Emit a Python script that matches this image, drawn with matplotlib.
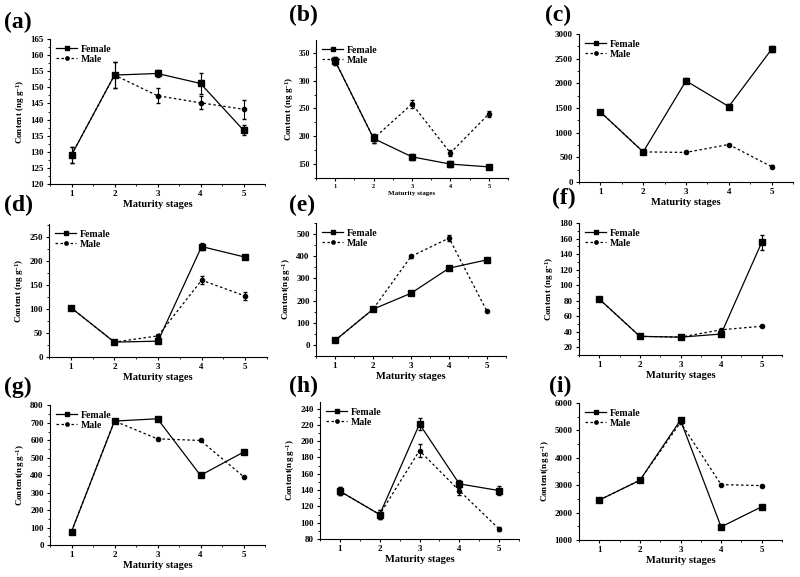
import matplotlib
matplotlib.use("Agg")
import matplotlib.pyplot as plt
from matplotlib.ticker import AutoMinorLocator

plt.rcParams['font.family'] = ['Liberation Serif', 'DejaVu Serif']
plt.rcParams['font.weight'] = 'bold'
plt.rcParams['mathtext.fontset'] = 'custom'
plt.rcParams['mathtext.rm'] = 'Liberation Serif:bold'
plt.rcParams['mathtext.it'] = 'Liberation Serif:bold'
plt.rcParams['mathtext.bf'] = 'Liberation Serif:bold'

stages = [1, 2, 3, 4, 5]

# (a)
a_female = [129.0, 153.8, 154.3, 151.2, 136.7]
a_female_err = [2.5, 4.0, 1.0, 3.3, 1.5]
a_male = [129.0, 153.8, 147.4, 145.2, 143.2]
a_male_err = [2.5, 4.0, 2.4, 2.0, 3.0]
# (b)
b_female = [335, 196, 163, 150, 145]
b_female_err = [7, 8, 6, 6, 3]
b_male = [335, 196, 258, 170, 240]
b_male_err = [7, 8, 8, 5, 6]
# (c)
c_female = [1420, 610, 2050, 1530, 2690]
c_female_err = [40, 20, 50, 60, 60]
c_male = [1420, 610, 600, 760, 310]
c_male_err = [40, 20, 20, 20, 25]
# (d)
d_female = [103, 31, 33, 230, 208]
d_female_err = [3, 2, 4, 8, 4]
d_male = [103, 31, 44, 160, 127]
d_male_err = [3, 2, 4, 9, 8]
# (e)
e_female = [20, 161, 233, 346, 384]
e_female_err = [4, 4, 5, 5, 7]
e_male = [20, 161, 399, 482, 152]
e_male_err = [4, 4, 5, 12, 3]
# (f)
f_female = [82, 34, 33, 37, 155]
f_female_err = [3, 2, 2, 2, 10]
f_male = [82, 34, 33, 42.5, 47]
f_male_err = [3, 2, 2, 1, 1]
# (g)
g_female = [77, 710, 723, 399, 532]
g_female_err = [5, 5, 5, 5, 5]
g_male = [77, 710, 608, 599, 392]
g_male_err = [5, 5, 5, 5, 5]
# (h)
h_female = [138.6, 110, 221, 147.6, 139.4]
h_female_err = [5, 5, 7, 5, 5]
h_male = [138.6, 110, 188.4, 139.3, 92.3]
h_male_err = [5, 5, 8, 5, 3]
# (i)
i_female = [2458, 3181, 5375, 1478, 2213]
i_female_err = [40, 30, 60, 30, 30]
i_male = [2458, 3181, 5290, 3022, 2985]
i_male_err = [40, 30, 60, 30, 30]

# name, data, pixel box (left, top, right, bottom), ylim, yticks, ylabel, label position
panels = [
    ('(a)', a_female, a_female_err, a_male, a_male_err, (50, 39, 265, 184), (120, 165), range(120, 166, 5), 'Content (ng g$^{-1}$)', (4, 22)),
    ('(b)', b_female, b_female_err, b_male, b_male_err, (316, 40, 508, 178), (125, 373), range(150, 351, 50), 'Content (ng g$^{-1}$)', (289, 15)),
    ('(c)', c_female, c_female_err, c_male, c_male_err, (579, 34, 793, 182), (0, 3000), range(0, 3001, 500), None, (545, 15)),
    ('(d)', d_female, d_female_err, d_male, d_male_err, (49, 224, 267, 357), (0, 277), range(0, 251, 50), 'Content (ng g$^{-1}$)', (4, 205)),
    ('(e)', e_female, e_female_err, e_male, e_male_err, (316, 223, 506, 356), (-50, 550), range(0, 501, 100), 'Content(ng g$^{-1}$)', (289, 205)),
    ('(f)', f_female, f_female_err, f_male, f_male_err, (579, 223, 782, 355), (10, 180), range(20, 181, 20), 'Content (ng g$^{-1}$)', (552, 198)),
    ('(g)', g_female, g_female_err, g_male, g_male_err, (50, 405, 265, 545), (0, 802), range(0, 801, 100), 'Content(ng g$^{-1}$)', (4, 387)),
    ('(h)', h_female, h_female_err, h_male, h_male_err, (320, 402, 519, 539), (80, 248), range(80, 241, 20), 'Content(ng g$^{-1}$)', (289, 386)),
    ('(i)', i_female, i_female_err, i_male, i_male_err, (579, 403, 782, 540), (1000, 6000), range(1000, 6001, 1000), 'Content(ng g$^{-1}$)', (549, 386)),
]

W, H = 800, 577
fig = plt.figure(figsize=(W / 100, H / 100), dpi=100)

for name, fem, fem_err, mal, mal_err, box, ylim, yticks, ylab, lpos in panels:
    l, t, r, b = box
    ax = fig.add_axes([l / W, 1 - b / H, (r - l) / W, (b - t) / H])
    # error bars first, lines and markers on top
    ax.errorbar(stages, mal, yerr=mal_err, fmt='none', ecolor='black', capsize=1.5, elinewidth=0.8)
    ax.errorbar(stages, fem, yerr=fem_err, fmt='none', ecolor='black', capsize=1.5, elinewidth=0.8)
    ax.plot(stages, fem, color='black', linestyle='-', lw=0.9, marker='s', ms=3.8, label='Female')
    ax.plot(stages, mal, color='black', linestyle=(0, (2, 2)), lw=0.9, marker='o', ms=3.0, label='Male')
    ax.set_xlim(0.5, 5.5)
    ax.set_ylim(*ylim)
    ax.set_xticks(stages)
    ax.set_yticks(list(yticks))
    ax.xaxis.set_minor_locator(AutoMinorLocator(2))
    ax.yaxis.set_minor_locator(AutoMinorLocator(2))
    ax.spines['top'].set_visible(False)
    ax.spines['right'].set_visible(False)
    ax.tick_params(labelsize=6.5 if name != '(b)' else 5.5, length=2.5, width=0.8, pad=2)
    ax.tick_params(which='minor', length=1.5, width=0.6)
    if name == '(b)':
        ax.tick_params(axis='x', labelsize=4.5)
    for lab in ax.get_xticklabels() + ax.get_yticklabels():
        lab.set_fontweight('bold')
    ax.set_xlabel('Maturity stages', fontsize=7.5 if name != '(b)' else 5, fontweight='bold', labelpad=1)
    if ylab:
        ax.set_ylabel(ylab, fontsize=6.5, fontweight='bold', labelpad=2)
    ax.legend(loc='upper left', frameon=False, handlelength=2.2, handletextpad=0.4,
              labelspacing=0.1, borderaxespad=0.2, markerscale=0.8,
              prop={'weight': 'bold', 'size': 7})
    fig.text(lpos[0] / W, 1 - lpos[1] / H, name, fontsize=17, fontweight='bold',
             va='center', ha='left')

fig.savefig('out.png', dpi=100)
